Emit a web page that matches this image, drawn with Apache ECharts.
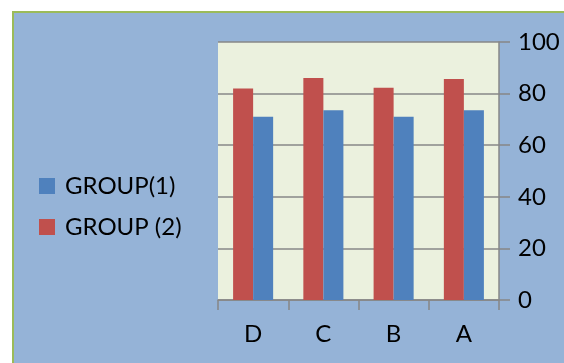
<!DOCTYPE html>
<html>
<head>
<meta charset="utf-8">
<script src="https://cdn.jsdelivr.net/npm/echarts@6/dist/echarts.min.js"></script>
<style>
  html, body { margin: 0; padding: 0; background: #ffffff; }
  #chart { width: 564px; height: 363px; }
</style>
</head>
<body>
<div id="chart"></div>
<script>
// categories left to right
const categories = ["D", "C", "B", "A"];
const group1 = [71, 73.5, 71, 73.5];
const group2 = [82, 86, 82.3, 85.7];
const seriesNames = ["GROUP(1)", "GROUP (2)"];

const font = "Lato, 'Open Sans', sans-serif";
const gridColor = "#878787";

const myChart = echarts.init(document.getElementById("chart"));
myChart.setOption({
  animation: false,
  backgroundColor: "#ffffff",
  graphic: [
    {
      type: "rect",
      z: -10,
      shape: { x: 13, y: 12, width: 560, height: 360 },
      style: { fill: "#95B3D7", stroke: "#9BBB59", lineWidth: 2 }
    }
  ],
  legend: {
    orient: "vertical",
    left: 34,
    top: 169,
    itemWidth: 16,
    itemHeight: 16,
    itemGap: 17,
    icon: "rect",
    data: seriesNames,
    textStyle: { fontFamily: font, fontSize: 24, color: "#000", padding: [0, 0, 0, 5] }
  },
  grid: {
    left: 218,
    top: 42,
    width: 281,
    height: 258,
    show: true,
    backgroundColor: "#EBF1DE",
    borderWidth: 0
  },
  xAxis: {
    type: "category",
    data: categories,
    axisLine: { show: true, lineStyle: { color: gridColor, width: 1.5 } },
    axisTick: { show: true, interval: 0, length: 10, lineStyle: { color: gridColor, width: 1.5 } },
    axisLabel: { fontFamily: font, fontSize: 24, color: "#000", margin: 22 }
  },
  yAxis: {
    type: "value",
    position: "right",
    min: 0,
    max: 100,
    interval: 20,
    axisLine: { show: true, lineStyle: { color: gridColor, width: 1.5 } },
    axisTick: { show: true, length: 11, lineStyle: { color: gridColor, width: 1.5 } },
    axisLabel: { fontFamily: font, fontSize: 24, color: "#000", margin: 19 },
    splitLine: { show: true, lineStyle: { color: gridColor, width: 1.5 } }
  },
  series: [
    {
      name: seriesNames[1],
      type: "bar",
      data: group2,
      barGap: "0%",
      barCategoryGap: "43%",
      itemStyle: { color: "#C0504D" }
    },
    {
      name: seriesNames[0],
      type: "bar",
      data: group1,
      barGap: "0%",
      barCategoryGap: "43%",
      itemStyle: { color: "#4F81BD" }
    }
  ]
});
</script>
</body>
</html>
